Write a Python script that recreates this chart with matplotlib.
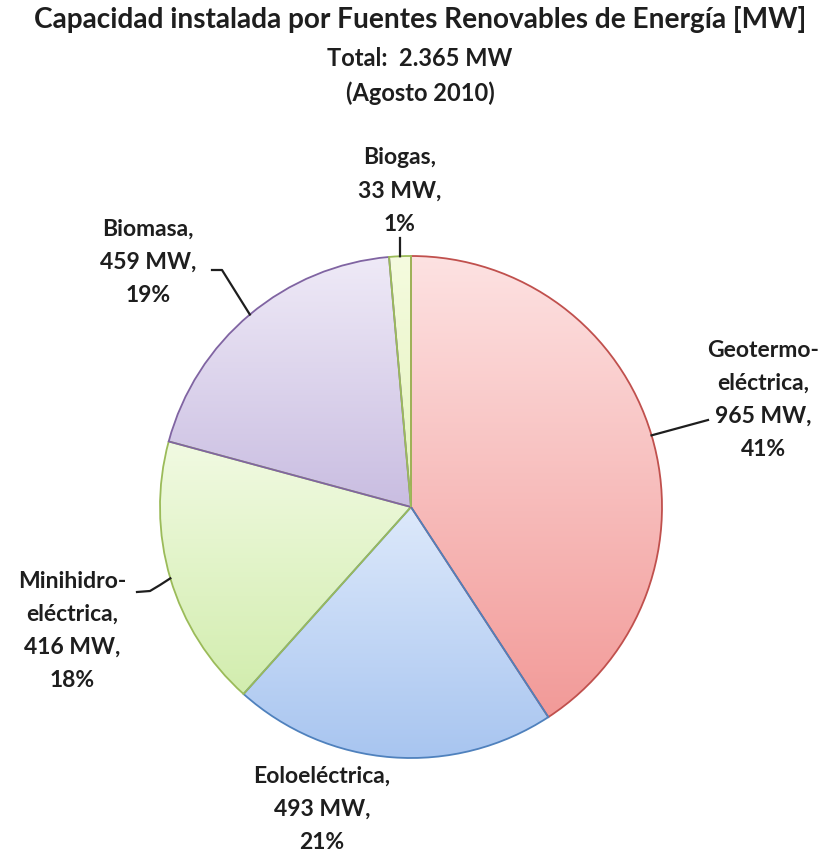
import numpy as np
import matplotlib
matplotlib.use('Agg')
import matplotlib.pyplot as plt
from matplotlib.colors import LinearSegmentedColormap

plt.rcParams['font.family'] = ['Lato', 'DejaVu Sans']

# data
names = ['Geotermo-\neléctrica', 'Eoloeléctrica', 'Minihidro-\neléctrica', 'Biomasa', 'Biogas']
values = [965, 493, 416, 459, 33]
total_label = '2.365'

# styles (top colour, bottom colour, edge)
tops = ['#FDE2E2', '#DDE9FB', '#F1FAE2', '#EFEAF7', '#F5FBDF']
bottoms = ['#F29A98', '#A8C5F0', '#D2EDAE', '#C9BDE1', '#E3F3BC']
edges = ['#C0504D', '#4F81BD', '#9BBB59', '#8064A2', '#9BBB59']

# layout in pixels (origin top-left)
W, H = 837, 859
label_pos = [(763, 400), (322, 809), (72, 631), (148, 262), (400, 191)]
leader_pts = [[(708, 420)], [], [(160, 585), (150, 591), (137, 592)],
              [(222, 270), (212, 270)], [(400, 238)]]
cx, cy, R = 411, 507, 251


def py(y):
    return H - y


fig = plt.figure(figsize=(W / 100, H / 100), dpi=100)
ax = fig.add_axes([0, 0, 1, 1])

wedges, _ = ax.pie(values, startangle=90, counterclock=False,
                   center=(cx, py(cy)), radius=R, frame=True)

for w, top, bot, ec in zip(wedges, tops, bottoms, edges):
    ang = np.radians(np.linspace(w.theta1, w.theta2, 200))
    xs = np.concatenate([[cx], cx + R * np.cos(ang)])
    ys = np.concatenate([[py(cy)], py(cy) + R * np.sin(ang)])
    cmap = LinearSegmentedColormap.from_list('g', [top, bot])
    grad = np.linspace(1, 0, 256).reshape(-1, 1)
    im = ax.imshow(grad, cmap=cmap, origin='lower', aspect='auto', zorder=1,
                   extent=(xs.min(), xs.max(), ys.min(), ys.max()))
    im.set_clip_path(w)
    w.set_facecolor('none')
    w.set_edgecolor(ec)
    w.set_linewidth(1.3)
    w.set_zorder(2)

total = sum(values)
for w, name, v, (lx, ly), pts in zip(wedges, names, values, label_pos, leader_pts):
    txt = f"{name},\n{v} MW,\n{v / total * 100:.0f}%"
    ax.text(lx, py(ly), txt, ha='center', va='center', multialignment='center',
            fontsize=16.5, fontweight='bold', color='#1e1e1e', linespacing=1.72)
    if pts:
        mid = np.radians((w.theta1 + w.theta2) / 2)
        x0 = cx + R * np.cos(mid)
        y0 = py(cy) + R * np.sin(mid)
        lxs = [x0] + [p[0] for p in pts]
        lys = [y0] + [py(p[1]) for p in pts]
        ax.plot(lxs, lys, color='#1e1e1e', lw=1.6, zorder=3)

ax.text(420, py(19), 'Capacidad instalada por Fuentes Renovables de Energía [MW]',
        ha='center', va='center', fontsize=20.2, fontweight='bold', color='#1e1e1e')
ax.text(420, py(58), f'Total:  {total_label} MW',
        ha='center', va='center', fontsize=17, fontweight='bold', color='#1e1e1e')
ax.text(420, py(93), '(Agosto 2010)',
        ha='center', va='center', fontsize=17, fontweight='bold', color='#1e1e1e')

ax.set_xlim(0, W)
ax.set_ylim(0, H)
ax.set_aspect('equal')
ax.axis('off')

fig.savefig('out.png', dpi=100, facecolor='white')
